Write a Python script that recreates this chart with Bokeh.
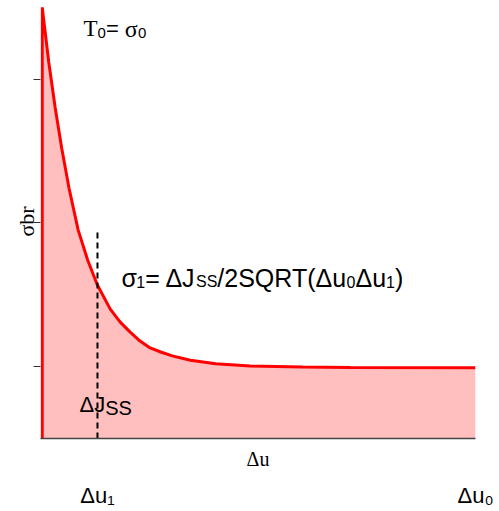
from bokeh.plotting import figure
from bokeh.models import Label, Range1d, FixedTicker, LinearAxis
from bokeh.embed import file_html
from bokeh.resources import INLINE

# ---- data ----
du = [0.0, 0.015, 0.03, 0.045, 0.062, 0.083, 0.105, 0.127, 0.157, 0.18, 0.203,
      0.225, 0.249, 0.275, 0.30, 0.342, 0.40, 0.48, 0.60, 0.711, 1.0]
sigma_br = [3.0, 2.62, 2.30, 2.02, 1.74, 1.45, 1.24, 1.07, 0.90, 0.81, 0.74,
            0.68, 0.63, 0.60, 0.575, 0.545, 0.52, 0.505, 0.497, 0.494, 0.493]
y_ticks = [0.5, 1.5, 2.5]
du1 = 0.1275          # position of the dashed line (Δu1)
du0 = 1.0             # end of the x axis (Δu0)
dashed_top = 1.46
x_tick_labels = {du1: "Δu₁", du0: "Δu₀"}

# ---- geometry ----
W, H = 498, 510
FL, FT, FW, FH = 40, 4, 435, 434
XR = (-0.004, 1.0)
YR = (0.0, 3.02)

def X(px):  # page px -> data x
    return XR[0] + (px - FL) / FW * (XR[1] - XR[0])

def Y(py):
    return YR[0] + ((FT + FH) - py) / FH * (YR[1] - YR[0])

p = figure(width=W, height=H, output_backend="svg", toolbar_location=None,
           x_range=Range1d(*XR), y_range=Range1d(*YR),
           min_border_left=FL, min_border_right=W - FL - FW,
           min_border_top=FT, min_border_bottom=H - FT - FH)
p.outline_line_color = None
p.grid.visible = False
p.background_fill_color = "white"

# fill + curve
p.varea(x=du, y1=0, y2=sigma_br, fill_color="#ffbfbf")
p.line(x=[du[0]] + du, y=[0] + sigma_br, line_color="red", line_width=3)
p.line(x=[du1, du1], y=[0, dashed_top], line_color="black", line_width=2,
       line_dash="6 4")

# axes
SANS = "Liberation Sans"
SERIF = "Liberation Serif"

yax = p.yaxis[0]
yax.ticker = FixedTicker(ticks=y_ticks)
yax.major_label_overrides = {t: "" for t in y_ticks}
yax.major_label_standoff = 0
yax.axis_line_color = None
yax.major_tick_out = 7
yax.major_tick_in = 0
yax.major_tick_line_color = "#333333"
yax.minor_tick_line_color = None
yax.axis_label = "σbr"
yax.axis_label_text_font = SERIF
yax.axis_label_text_font_size = "22px"
yax.axis_label_text_font_style = "normal"
yax.axis_label_text_color = "black"
yax.axis_label_standoff = -5

xax = p.xaxis[0]
xax.ticker = FixedTicker(ticks=[])
xax.axis_line_color = "#444444"
xax.axis_line_width = 1.5
xax.major_tick_line_color = None
xax.minor_tick_line_color = None
xax.major_tick_out = 0
xax.major_tick_in = 0
xax.major_label_standoff = 0
xax.axis_label = "Δu"
xax.axis_label_text_font = SERIF
xax.axis_label_text_font_size = "20px"
xax.axis_label_text_font_style = "normal"
xax.axis_label_text_color = "black"
xax.axis_label_standoff = 9

xax2 = LinearAxis(ticker=FixedTicker(ticks=list(x_tick_labels.keys())),
                  major_label_overrides=x_tick_labels,
                  axis_line_color=None, major_tick_line_color=None,
                  minor_tick_line_color=None, major_tick_out=0, major_tick_in=0,
                  major_label_standoff=10,
                  major_label_text_font=SANS, major_label_text_font_size="22px",
                  major_label_text_color="black")
p.add_layout(xax2, "below")

# ---- rich text helper ----
ARIAL = {' ': 278, '(': 333, ')': 333, '/': 278, '=': 584, '0': 556, '1': 556,
         '2': 556, 'J': 500, 'S': 667, 'Q': 778, 'R': 722, 'T': 611, 'u': 556,
         'Δ': 668, 'σ': 594}
TIMES = {'T': 611, '=': 564, ' ': 250, 'σ': 549, 'Δ': 612, 'u': 500, 'b': 500, 'r': 333}

def width(text, fam, size):
    tab = ARIAL if fam == SANS else TIMES
    return sum(tab.get(c, 556) for c in text) / 1000 * size

def runs(x0, base, parts):
    x = x0
    for text, fam, size, dy in parts:
        p.add_layout(Label(x=X(x), y=Y(base + dy), text=text, text_font=fam,
                           text_font_size=f"{size}px", text_baseline="alphabetic",
                           text_align="left", text_color="black"))
        x += width(text, fam, size)

runs(83, 28, [("T", SERIF, 23, 0), ("0", SANS, 15, 4), ("= ", SANS, 22, 0),
              ("σ", SERIF, 24, 0), ("0", SANS, 15, 4)])

runs(121, 277, [("σ", SANS, 25, 0), ("1", SANS, 16, 4), ("= ΔJ", SANS, 25, 0),
                ("SS", SANS, 16, 4), ("/2SQRT(Δu", SANS, 25, 0), ("0", SANS, 16, 4),
                ("Δu", SANS, 25, 0), ("1", SANS, 16, 4), (")", SANS, 25, 0)])

runs(79, 404, [("ΔJ", SANS, 22, 0), ("SS", SANS, 20, 3)])

open("out.html", "w").write(file_html(p, INLINE))
